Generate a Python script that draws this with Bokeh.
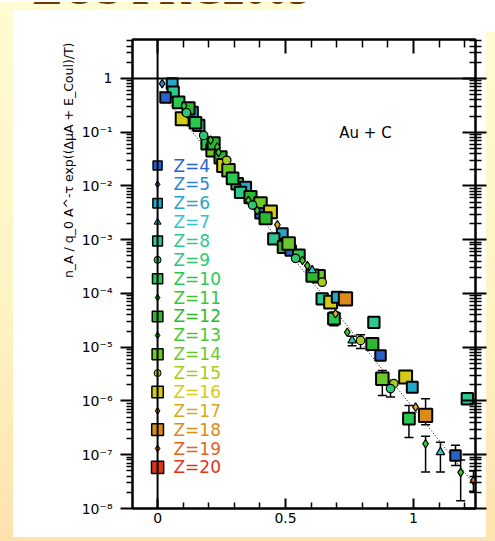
import math
from bokeh.plotting import figure
from bokeh.layouts import column
from bokeh.models import (FixedTicker, LinearAxis, LogAxis, Span, Label, Range1d, Title, Div,
                          CustomJSTickFormatter, Whisker, TeeHead, ColumnDataSource)
from bokeh.embed import file_html
from bokeh.resources import INLINE
from bokeh.core.properties import value

# ---------------- data ----------------
Z_LIST = list(range(4, 21))
Z_COLORS = ["#2a62cc", "#2a86d6", "#26a6c8", "#2ec6c8", "#2cc890", "#2ec872",
            "#2ac852", "#34c834", "#2cb82c", "#44c82c", "#6cc82a", "#a4cc24",
            "#d4cc14", "#d8a820", "#dc8a18", "#e0661e", "#e03418"]
Z_LABELS = ["Z=%d" % z for z in Z_LIST]

pt_x = [0.018, 0.057, 0.061, 0.031, 0.082, 0.103, 0.096, 0.136, 0.121, 0.161,
        0.194, 0.207, 0.233, 0.215, 0.246, 0.258, 0.270, 0.311, 0.344, 0.324,
        0.363, 0.355, 0.402, 0.389, 0.402, 0.441, 0.468, 0.487, 0.454, 0.493,
        0.520, 0.552, 0.585, 0.604, 0.629, 0.643, 0.643, 0.676, 0.702, 0.734,
        0.695, 0.689, 0.845, 0.741, 0.760, 0.793, 0.839, 0.871, 0.878, 0.969,
        0.923, 0.995, 0.910, 0.982, 1.008, 1.047, 1.047, 1.105, 1.164, 1.184,
        1.210, 1.234,
        0.180, 0.219, 0.238, 0.277, 0.293, 0.113, 0.148, 0.371, 0.422, 0.512,
        0.539, 0.566, 0.605]
pt_y = [0.80, 0.80, 0.556, 0.44, 0.36, 0.31, 0.178, 0.236, 0.277, 0.134,
        0.061, 0.071, 0.053, 0.046, 0.034, 0.024, 0.030, 0.011, 0.0095, 0.0076,
        0.0062, 0.0054, 0.0047, 0.0035, 0.0031, 0.0033, 0.0019, 0.0013, 0.00104, 0.00073,
        0.00063, 0.00051, 0.00033, 0.00027, 0.00021, 0.000162, 7.9e-5, 6.9e-5, 8.5e-5, 7.9e-5,
        4.2e-5, 3.4e-5, 2.9e-5, 1.9e-5, 1.34e-5, 1.34e-5, 1.15e-5, 7.0e-6, 2.6e-6, 2.8e-6,
        2.1e-6, 1.8e-6, 1.7e-6, 4.7e-7, 7.7e-7, 5.4e-7, 1.6e-7, 1.12e-7, 9.7e-8, 4.7e-8,
        1.1e-6, 3.3e-8,
        0.087, 0.062, 0.042, 0.0195, 0.0138, 0.23, 0.15, 0.0044, 0.0025, 0.00085,
        0.00045, 0.00041, 0.000215]
pt_z = [5, 6, 8, 4, 10, 11, 16, 6, 12, 8,
        10, 13, 11, 14, 12, 16, 15, 10, 6, 8,
        12, 13, 14, 11, 4, 16, 17, 6, 8, 12,
        4, 10, 13, 7, 14, 15, 8, 16, 6, 18,
        17, 10, 8, 11, 7, 15, 12, 4, 14, 16,
        15, 6, 9, 10, 17, 18, 11, 7, 4, 13,
        8, 19,
        9, 12, 13, 14, 10, 9, 10, 9, 12, 14,
        9, 13, 12]

err_x = [0.689, 0.760, 0.793, 0.878, 0.910, 0.982, 1.047, 1.047, 1.105, 1.164, 1.184, 1.234]
err_lo = [2.5e-5, 1.07e-5, 9.5e-6, 1.26e-6, 1.18e-6, 2.1e-7, 3.6e-7, 4.8e-8, 4.8e-8, 6.3e-8, 1.4e-8, 2.1e-8]
err_hi = [4.5e-5, 1.6e-5, 1.7e-5, 3.7e-6, 2.3e-6, 8.2e-7, 1.1e-6, 2.2e-7, 1.7e-7, 1.5e-7, 8.0e-8, 5.0e-8]

fit_x = [0.0, 1.24]
fit_y = [0.646, 2.7e-8]

Y_DECADES = [1e-8, 1e-7, 1e-6, 1e-5, 1e-4, 1e-3, 1e-2, 1e-1, 1.0]
X_MAJOR = [0.0, 0.5, 1.0]
X_MINOR = [-0.1, 0.1, 0.2, 0.3, 0.4, 0.6, 0.7, 0.8, 0.9, 1.1, 1.2]

Y_LABEL = "n_A / q_0 A^-\u03c4 exp((\u0394\u03bcA + E_Coul)/T)"
TITLE = "EOS PRC2005"

# ---------------- style helpers ----------------
def marker_for(z):
    if z % 2 == 0:
        return "square"
    if z == 7:
        return "triangle"
    if z in (9, 15):
        return "circle"
    return "diamond"

def size_for(z):
    return 9 + (z - 4) * 0.2 if z % 2 == 0 else 7

color_of = dict(zip(Z_LIST, Z_COLORS))

y_minor = []
for d in Y_DECADES:
    for k in range(2, 10):
        v = d * k
        if v < 5.3:
            y_minor.append(v)

# ---------------- slide-title strip (text cut off by the strip's top edge) ----------------
head = Div(
    text=('<div style="position:relative;width:495px;height:10px;overflow:hidden;'
          'background:linear-gradient(to right,#fffbd2 0px,#fffbd2 302px,#ffffff 302px);">'
          '<span style="position:absolute;left:33px;bottom:0px;font-family:\'Liberation Serif\';'
          'font-weight:bold;font-size:44px;line-height:44px;color:#6b3a0c;white-space:nowrap;">'
          + TITLE + '</span></div>'),
    width=495, height=10, styles={"overflow": "hidden", "margin": "0", "padding": "0"})

# ---------------- main chart ----------------
p = figure(width=495, height=531, x_range=Range1d(-0.098, 1.242),
           y_range=Range1d(1e-8, 5.3), y_axis_type="log",
           output_backend="svg", toolbar_location=None, title=None,
           min_border_left=132, min_border_right=20, min_border_top=29,
           min_border_bottom=33)
p.border_fill_color = None
p.background_fill_color = "white"
p.outline_line_color = "black"
p.outline_line_width = 2
p.grid.visible = False
p.styles = {
    "background": ("linear-gradient(#ffffff,#ffffff) 486px 0px / 9px 22px no-repeat, "
                   "linear-gradient(#ffffff,#ffffff) 13px 0px / 473px 527px no-repeat, "
                   "linear-gradient(to bottom, #fffbd2 0%, #fff4c4 55%, #fde2ae 100%)")
}

ytick = FixedTicker(ticks=Y_DECADES, minor_ticks=y_minor)
xtick = FixedTicker(ticks=X_MAJOR, minor_ticks=X_MINOR)

yfmt = CustomJSTickFormatter(code="""
const e = Math.round(Math.log10(tick));
if (e == 0) return "1";
const sup = {"-":"\u207b","0":"\u2070","1":"\u00b9","2":"\u00b2","3":"\u00b3","4":"\u2074",
             "5":"\u2075","6":"\u2076","7":"\u2077","8":"\u2078","9":"\u2079"};
return "10" + String(e).split("").map(c => sup[c]).join("");
""")
xfmt = CustomJSTickFormatter(code="""
if (Math.abs(tick) < 1e-9) return "0";
if (Math.abs(tick - 1) < 1e-9) return "1";
return tick.toFixed(1);
""")
blank = CustomJSTickFormatter(code="return '';")

FONT = "DejaVu Sans"

yax = p.yaxis[0]
yax.ticker = ytick
yax.formatter = yfmt
yax.major_tick_in = 0
yax.major_tick_out = 12
yax.minor_tick_in = 0
yax.minor_tick_out = 6
yax.axis_line_width = 2
yax.major_tick_line_width = 2
yax.minor_tick_line_width = 1.5
yax.major_label_text_font = FONT
yax.major_label_text_font_size = "14px"
yax.major_label_text_color = "black"
yax.major_label_standoff = 8

xax = p.xaxis[0]
xax.ticker = xtick
xax.formatter = xfmt
xax.major_tick_in = 10
xax.major_tick_out = 0
xax.minor_tick_in = 6
xax.minor_tick_out = 0
xax.axis_line_width = 2
xax.major_tick_line_width = 2
xax.minor_tick_line_width = 1.5
xax.major_label_text_font = FONT
xax.major_label_text_font_size = "14px"
xax.major_label_text_color = "black"
xax.major_label_standoff = 4

top = LinearAxis(ticker=FixedTicker(ticks=X_MAJOR, minor_ticks=X_MINOR), formatter=blank,
                 major_tick_in=14, major_tick_out=0, minor_tick_in=8, minor_tick_out=0,
                 axis_line_width=2, major_tick_line_width=2, minor_tick_line_width=1.5,
                 major_label_text_font_size="0px", major_label_standoff=0)
p.add_layout(top, "above")

right = LogAxis(ticker=FixedTicker(ticks=Y_DECADES, minor_ticks=y_minor), formatter=blank,
                major_tick_in=13, major_tick_out=11, minor_tick_in=6, minor_tick_out=6,
                axis_line_width=2, major_tick_line_width=2, minor_tick_line_width=1.5,
                major_label_text_font_size="0px", major_label_standoff=0)
p.add_layout(right, "right")

# y-axis label as a left-side title, anchored near the top like the original
p.add_layout(Title(text=Y_LABEL, align="right", offset=3, text_font=FONT,
                   text_font_size="12.5px", text_font_style="normal", text_color="black",
                   standoff=5), "left")

p.add_layout(Span(location=0, dimension="height", line_color="black", line_width=2))
p.add_layout(Span(location=1, dimension="width", line_color="black", line_width=2))

# fit line
p.line(fit_x, fit_y, line_color="black", line_width=1, line_dash="1 2")

# error bars
esrc = ColumnDataSource(dict(x=err_x, lo=err_lo, hi=err_hi))
p.add_layout(Whisker(source=esrc, base="x", lower="lo", upper="hi", dimension="height",
                     line_color="black", line_width=1.5,
                     upper_head=TeeHead(size=9, line_width=1.5, line_color="black"),
                     lower_head=TeeHead(size=9, line_width=1.5, line_color="black")))

# data points (even Z squares first so small markers sit on top)
order = sorted(range(len(pt_x)), key=lambda i: (pt_z[i] % 2, 0))
src = ColumnDataSource(dict(
    x=[pt_x[i] for i in order], y=[pt_y[i] for i in order],
    color=[color_of[pt_z[i]] for i in order],
    marker=[marker_for(pt_z[i]) for i in order],
    size=[size_for(pt_z[i]) + 1.5 for i in order],
    lw=[2 if pt_z[i] % 2 == 0 else 1.2 for i in order]))
p.scatter("x", "y", source=src, marker="marker", size="size", fill_color="color",
          line_color="black", line_width="lw")

# legend (column on the x=0 line)
leg_y = [10 ** (-1.62 - 0.351 * i) for i in range(len(Z_LIST))]
lsrc = ColumnDataSource(dict(
    x=[0.0] * len(Z_LIST), y=leg_y, tx=[0.062] * len(Z_LIST),
    color=Z_COLORS, label=Z_LABELS,
    marker=[marker_for(z) for z in Z_LIST],
    size=[size_for(z) for z in Z_LIST],
    lw=[1.5 if z % 2 == 0 else 1.0 for z in Z_LIST]))
p.scatter("x", "y", source=lsrc, marker="marker", size="size", fill_color="color",
          line_color="black", line_width="lw")
p.text("tx", "y", text="label", source=lsrc, text_color="color",
       text_font=value(FONT), text_font_size="17px", text_baseline="middle",
       text_align="left")

p.add_layout(Label(x=0.71, y=0.095, text="Au + C", text_font=FONT,
                   text_font_size="15px", text_color="black", text_baseline="alphabetic"))

layout = column(head, p, spacing=0)
open("out.html", "w").write(file_html(layout, INLINE))
